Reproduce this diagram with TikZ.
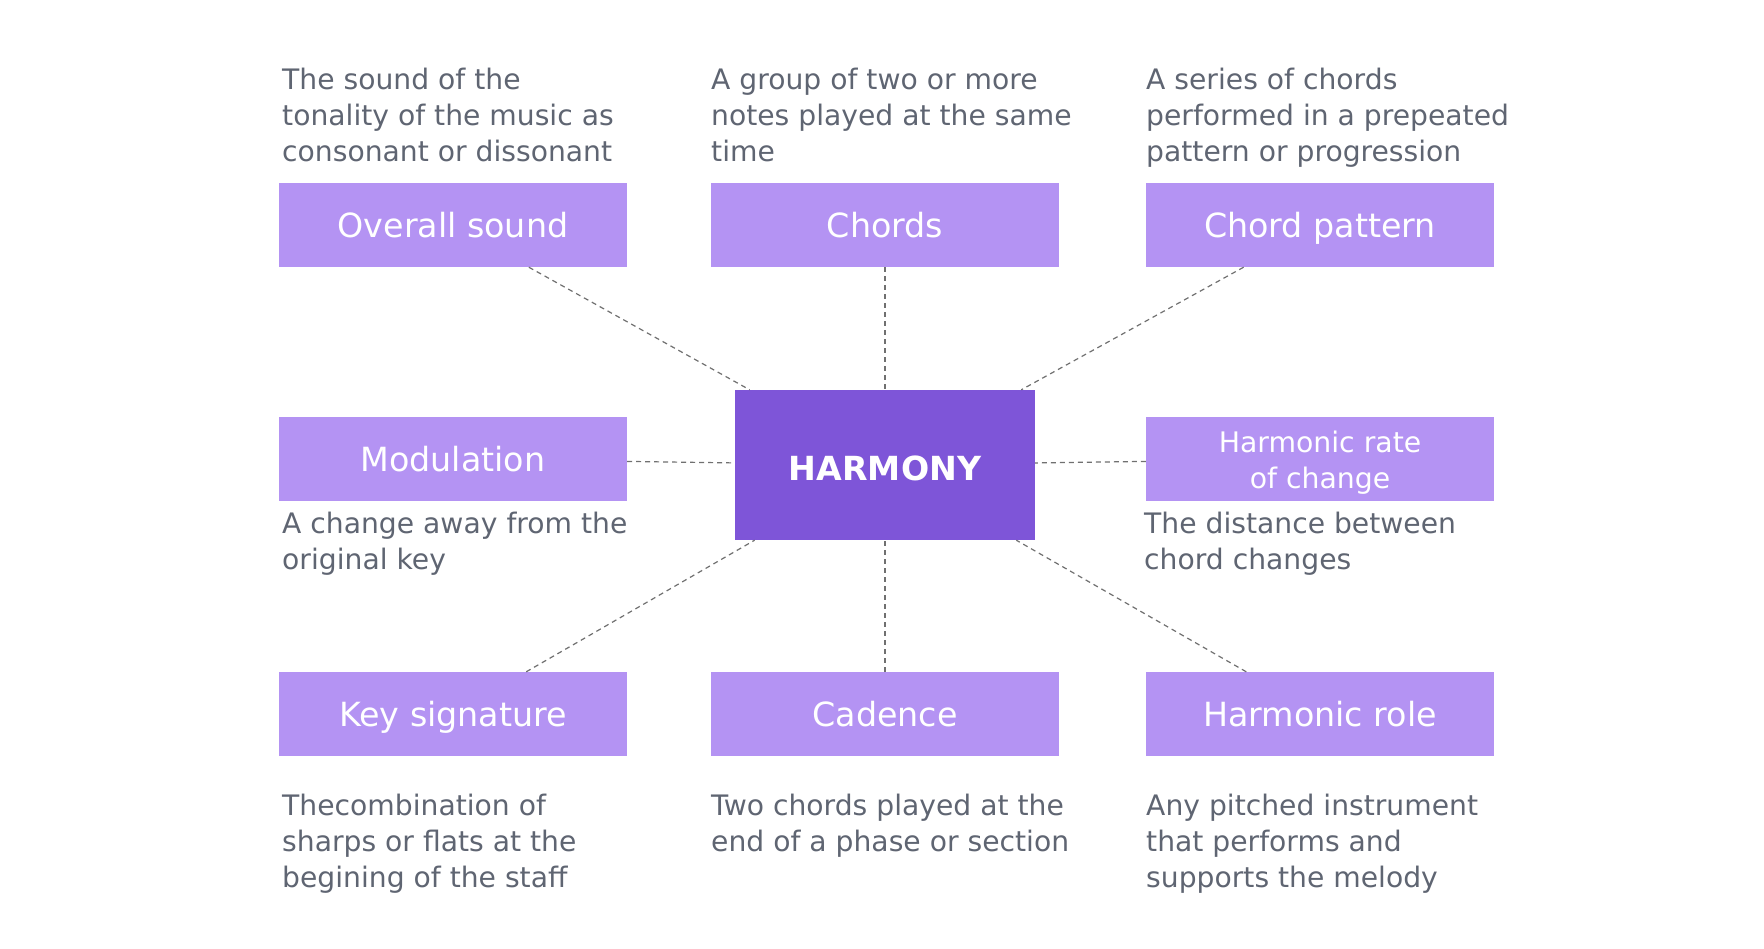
\documentclass[tikz,border=0pt]{standalone}
\usepackage{fontspec}
\setmainfont{DejaVu Sans}
\definecolor{boxlight}{HTML}{B493F3}
\definecolor{boxdark}{HTML}{7E55D8}
\definecolor{desc}{HTML}{5F6572}
\definecolor{conn}{HTML}{707070}
\begin{document}
\begin{tikzpicture}[x=1pt,y=-1pt,
  topic/.style={fill=boxlight, minimum width=348pt, minimum height=84pt, inner sep=0pt, text=white,
    text height=24pt, text depth=0pt, font=\fontsize{33.3}{40}\selectfont},
  center/.style={fill=boxdark, minimum width=300pt, minimum height=150pt, inner sep=0pt, text=white,
    text height=30pt, text depth=0pt, font=\fontsize{33.2}{40}\selectfont\bfseries},
  desctext/.style={anchor=base west, inner sep=0pt, align=left, text=desc,
    font=\fontsize{28.2}{36}\selectfont},
  link/.style={draw=conn, line width=1.2pt, dash pattern=on 5pt off 4pt}
]
\useasboundingbox[fill=white] (0,0) rectangle (1764,948);

\node[center] (harm) at (885,465) {HARMONY};

\node[topic] (over) at (453,225) {Overall sound};
\node[topic] (chords) at (885,225) {Chords};
\node[topic] (patt) at (1320,225) {Chord pattern};
\node[topic] (mod) at (453,459) {Modulation};
\node[topic, align=center, text height=58pt, text depth=0pt, font=\fontsize{28.3}{35.5}\selectfont] (rate) at (1320,459) {Harmonic rate\\of change};
\node[topic] (key) at (453,714) {Key signature};
\node[topic] (cad) at (885,714) {Cadence};
\node[topic] (role) at (1320,714) {Harmonic role};

\draw[link] (over) -- (harm);
\draw[link] (chords) -- (harm);
\draw[link] (patt) -- (harm);
\draw[link] (mod) -- (harm);
\draw[link] (rate) -- (harm);
\draw[link] (key) -- (harm);
\draw[link] (cad) -- (harm);
\draw[link] (role) -- (harm);

% anchors are at the baseline of each text's last line
\node[desctext] (d1) at (282,161) {The sound of the\\tonality of the music as\\consonant or dissonant};
\node[desctext] (d2) at (711,161) {A group of two or more\\notes played at the same\\time};
\node[desctext] (d3) at (1146,161) {A series of chords\\performed in a prepeated\\pattern or progression};
\node[desctext] (d4) at (282,569) {A change away from the\\original key};
\node[desctext] (d5) at (1144,569) {The distance between\\chord changes};
\node[desctext] (d6) at (282,887) {Thecombination of\\sharps or flats at the\\begining of the staff};
\node[desctext] (d7) at (711,851) {Two chords played at the\\end of a phase or section};
\node[desctext] (d8) at (1146,887) {Any pitched instrument\\that performs and\\supports the melody};
\end{tikzpicture}
\end{document}
